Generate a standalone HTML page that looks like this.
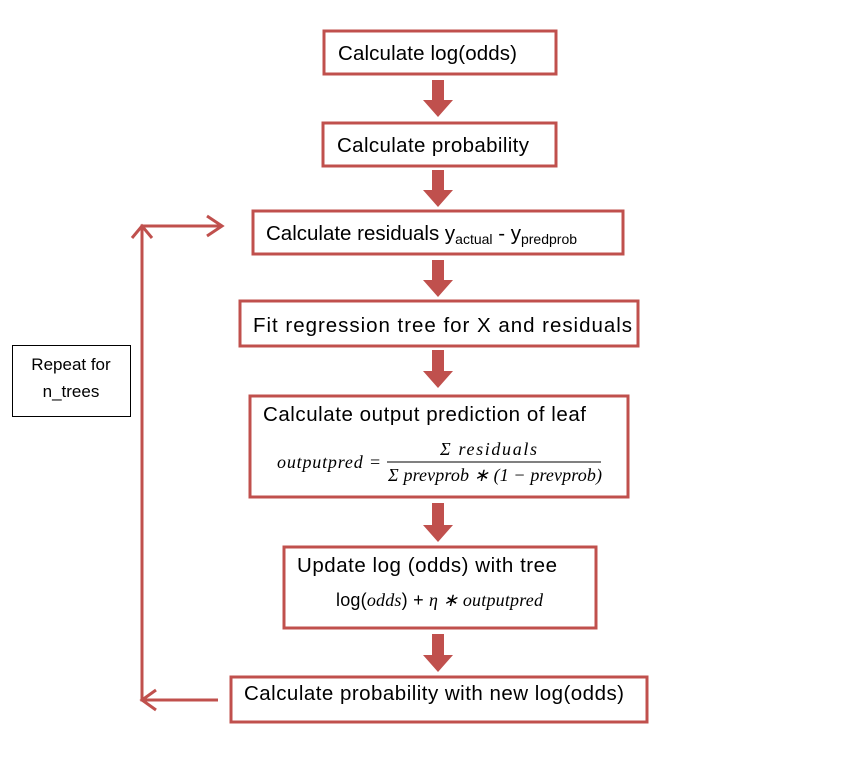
<!DOCTYPE html>
<html><head><meta charset="utf-8"><style>
html,body{margin:0;padding:0;background:#fff;width:859px;height:763px;overflow:hidden}
svg text{font-family:"Liberation Sans",sans-serif;fill:#000}
.m{font-family:"Liberation Serif",serif;font-style:italic}
</style></head><body>
<svg width="859" height="763" viewBox="0 0 859 763" xmlns="http://www.w3.org/2000/svg">
<g fill="none" stroke="#c0504d" stroke-width="3">
<rect x="324" y="31" width="232" height="43"/>
<rect x="323" y="123" width="233" height="43"/>
<rect x="253" y="211" width="370" height="43"/>
<rect x="240" y="301" width="398" height="45"/>
<rect x="250" y="396" width="378" height="101"/>
<rect x="284" y="547" width="312" height="81"/>
<rect x="231" y="677" width="416" height="45"/>
<polyline points="218,700 142,700 142,226 222,226"/>
<polyline points="207,216 222,226 207,236"/>
<polyline points="132,238 142,226 152,238"/>
<polyline points="156,690 142,700 156,710"/>
</g>
<g fill="#c0504d">
<path d="M432,80h12v20h9l-15,17l-15,-17h9z"/>
<path d="M432,170h12v20h9l-15,17l-15,-17h9z"/>
<path d="M432,260h12v20h9l-15,17l-15,-17h9z"/>
<path d="M432,350h12v21h9l-15,17l-15,-17h9z"/>
<path d="M432,503h12v22h9l-15,17l-15,-17h9z"/>
<path d="M432,634h12v21h9l-15,17l-15,-17h9z"/>
</g>
<rect x="12.5" y="345.5" width="118" height="71" fill="none" stroke="#000" stroke-width="1"/>
<text x="71" y="370" font-size="17" text-anchor="middle">Repeat for</text>
<text x="71" y="397" font-size="17" text-anchor="middle">n_trees</text>
<g font-size="20.5">
<text x="338" y="60" textLength="179">Calculate log(odds)</text>
<text x="337" y="152" textLength="192">Calculate probability</text>
<text x="266" y="240">Calculate residuals y<tspan font-size="14" dy="4">actual</tspan><tspan dy="-4"> - y</tspan><tspan font-size="14" dy="4">predprob</tspan></text>
<text x="253" y="332" textLength="379">Fit regression tree for X and residuals</text>
<text x="263" y="421" textLength="323">Calculate output prediction of leaf</text>
<text x="297" y="572" textLength="260">Update log (odds) with tree</text>
<text x="244" y="700" textLength="380">Calculate probability with new log(odds)</text>
</g>
<g font-size="18">
<text class="m" x="277" y="468" textLength="104">outputpred =</text>
<text class="m" x="440" y="455" textLength="97">Σ residuals</text>
<line x1="387" y1="462" x2="601" y2="462" stroke="#000" stroke-width="1"/>
<text class="m" x="388" y="481" textLength="214">Σ prevprob ∗ (1 − prevprob)</text>
<text x="336" y="606" font-family="Liberation Serif,serif" textLength="207">log(<tspan class="m">odds</tspan>) +  <tspan class="m">η ∗ outputpred</tspan></text>
</g>
</svg>
</body></html>
